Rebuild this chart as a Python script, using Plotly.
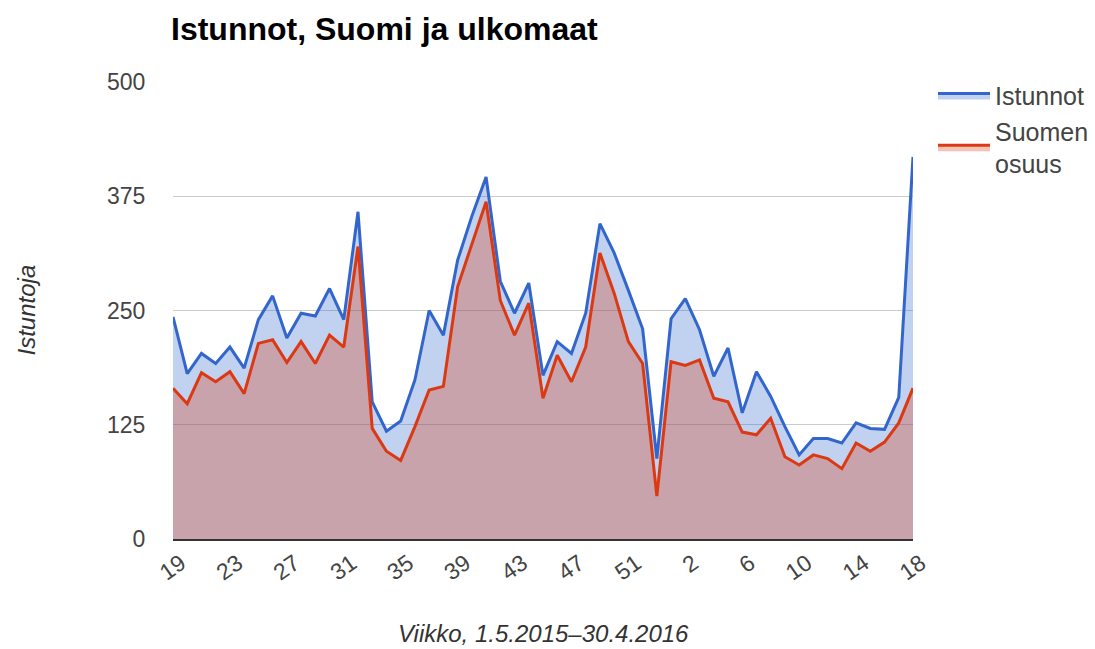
import plotly.graph_objects as go

weeks = [str(w) for w in list(range(19, 54)) + list(range(1, 19))]

istunnot = [243, 181, 203, 192, 210, 187, 240, 266, 220, 247, 244, 274, 240, 358,
            150, 118, 129, 174, 250, 223, 305, 353, 396, 282, 247, 280, 179, 216,
            203, 247, 345, 313, 272, 230, 88, 241, 263, 229, 178, 209, 138, 183,
            156, 123, 92, 110, 110, 105, 127, 121, 120, 155, 418]

suomen_osuus = [165, 148, 182, 172, 183, 159, 214, 218, 193, 216, 192, 223, 210, 320,
                121, 96, 86, 123, 163, 167, 276, 323, 369, 261, 223, 258, 154, 201,
                172, 210, 313, 269, 216, 192, 47, 194, 190, 196, 154, 150, 117, 114,
                132, 90, 81, 92, 88, 77, 105, 96, 106, 127, 165]

tick_weeks = weeks[::4]
y_ticks = [0, 125, 250, 375, 500]

FONT = "Liberation Sans, Arial, sans-serif"

fig = go.Figure()
fig.add_trace(go.Scatter(
    x=weeks, y=istunnot, name="Istunnot", mode="lines",
    line=dict(color="#3366cc", width=3),
    fill="tozeroy", fillcolor="rgba(51,102,204,0.3)",
))
fig.add_trace(go.Scatter(
    x=weeks, y=suomen_osuus, name="Suomen<br>osuus", mode="lines",
    line=dict(color="#dc3912", width=3),
    fill="tozeroy", fillcolor="rgba(220,57,18,0.3)",
))

fig.update_layout(
    width=1095, height=649,
    margin=dict(l=173, r=182, t=82, b=110, autoexpand=False),
    paper_bgcolor="white", plot_bgcolor="white",
    font=dict(family=FONT, color="#444"),
    title=dict(text="<b>Istunnot, Suomi ja ulkomaat</b>", xref="container", yref="container",
               x=171/1095, xanchor="left", y=1 - 29/649, yanchor="middle",
               font=dict(size=32, color="#000", family=FONT)),
    showlegend=True,
    legend=dict(x=(933-173)/740, xanchor="left", y=1.02, yanchor="top",
                font=dict(size=25, color="#444"), itemwidth=52,
                bgcolor="rgba(0,0,0,0)", traceorder="normal"),
    xaxis=dict(type="category", range=[0, len(weeks) - 1],
               tickmode="array", tickvals=tick_weeks, ticktext=tick_weeks,
               tickangle=-35, ticks="", showgrid=False,
               tickfont=dict(size=23, color="#444"), ticklabelshift=8,
               showline=True, linecolor="#333", linewidth=2, zeroline=False),
    yaxis=dict(range=[0, 500], tickmode="array", tickvals=y_ticks,
               showgrid=True, gridcolor="#cccccc", gridwidth=1,
               zeroline=False, showline=False,
               ticks="outside", ticklen=22, tickcolor="rgba(0,0,0,0)",
               tickfont=dict(size=23, color="#444")),
    annotations=[
        dict(text="<i>Viikko, 1.5.2015–30.4.2016</i>", xref="paper", yref="paper",
             x=0.5, y=-(633 - 539) / 457, xanchor="center", yanchor="middle",
             showarrow=False, font=dict(size=24, color="#333", family=FONT)),
        dict(text="<i>Istuntoja</i>", xref="paper", yref="paper",
             x=-(173 - 26) / 740, y=0.5, xanchor="center", yanchor="middle",
             textangle=-90, showarrow=False, font=dict(size=24, color="#333", family=FONT)),
    ],
)

fig.write_html("out.html", config={"displayModeBar": False},
               post_script="document.body.style.margin='0';")
